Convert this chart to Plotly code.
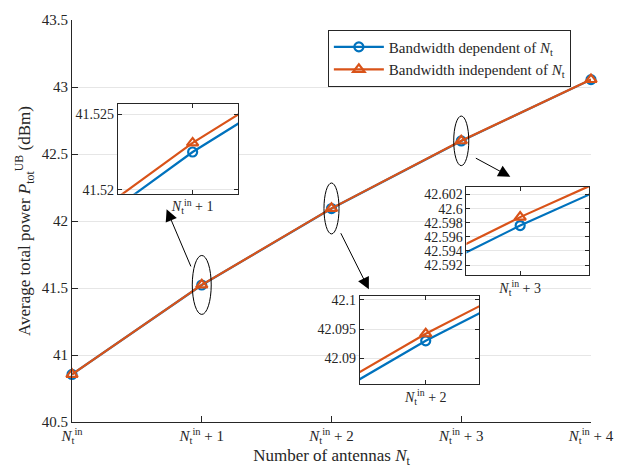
import plotly.graph_objects as go

# ---- data ----
x_vals = [0, 1, 2, 3, 4]
x_labels = ["<i>N</i><sub>t</sub><sup>in</sup>",
            "<i>N</i><sub>t</sub><sup>in</sup> + 1",
            "<i>N</i><sub>t</sub><sup>in</sup> + 2",
            "<i>N</i><sub>t</sub><sup>in</sup> + 3",
            "<i>N</i><sub>t</sub><sup>in</sup> + 4"]
bw_dependent = [40.855, 41.5225, 42.093, 42.5976, 43.055]
bw_independent = [40.856, 41.5231, 42.0942, 42.5988, 43.056]
series_names = ["Bandwidth dependent of <i>N</i><sub>t</sub>",
                "Bandwidth independent of <i>N</i><sub>t</sub>"]

# inset definitions: (center index, x range, y range, y ticks, y tick labels)
insets = [
    (1, [0.9946, 1.0033], [41.51974, 41.52565], [41.52, 41.525], ["41.52", "41.525"]),
    (2, [1.9886, 2.0093], [42.0857, 42.1007], [42.09, 42.095, 42.1], ["42.09", "42.095", "42.1"]),
    (3, [2.9925, 3.0096], [42.5906, 42.6031],
     [42.592, 42.594, 42.596, 42.598, 42.6, 42.602],
     ["42.592", "42.594", "42.596", "42.598", "42.6", "42.602"]),
]
# inset placement (paper coords)
inset_domains = [
    ([0.0883, 0.3205], [0.568, 0.790]),
    ([0.5547, 0.785], [0.0951, 0.3146]),
    ([0.760, 0.996], [0.366, 0.585]),
]

BLUE = "#0072BD"
ORANGE = "#D95319"
AX = "#262626"
FONT = "Liberation Serif"

fig = go.Figure()

def add_series(xa, ya, show, clip):
    fig.add_trace(go.Scatter(
        x=x_vals, y=bw_dependent, name=series_names[0], mode="lines+markers",
        line=dict(color=BLUE, width=2.2, simplify=False),
        marker=dict(symbol="circle-open", size=9, line=dict(width=2.2, color=BLUE)),
        xaxis=xa, yaxis=ya, showlegend=show, cliponaxis=clip))
    fig.add_trace(go.Scatter(
        x=x_vals, y=bw_independent, name=series_names[1], mode="lines+markers",
        line=dict(color=ORANGE, width=2.2, simplify=False),
        marker=dict(symbol="triangle-up-open", size=10, line=dict(width=2.2, color=ORANGE)),
        xaxis=xa, yaxis=ya, showlegend=show, cliponaxis=clip))

add_series("x", "y", True, False)

layout = dict(
    width=626, height=472,
    margin=dict(l=72, r=33, t=15, b=47),
    plot_bgcolor="white", paper_bgcolor="white",
    font=dict(family=FONT, size=15, color=AX),
    xaxis=dict(range=[0, 4], tickvals=x_vals, ticktext=x_labels,
               showgrid=False, zeroline=False, showline=True, linecolor=AX, linewidth=1,
               ticks="inside", ticklen=6, tickcolor=AX, tickfont=dict(size=15),
               title=dict(text="Number of antennas <i>N</i><sub>t</sub>", font=dict(size=17), standoff=2)),
    yaxis=dict(range=[40.5, 43.5], tickvals=[40.5, 41, 41.5, 42, 42.5, 43, 43.5],
               ticktext=["40.5", "41", "41.5", "42", "42.5", "43", "43.5"],
               showgrid=True, gridcolor="#e6e6e6", zeroline=False, showline=True,
               linecolor=AX, linewidth=1, ticks="inside", ticklen=6, tickcolor=AX,
               tickfont=dict(size=15),
               title=dict(text="Average total power <i>P</i><sub>tot</sub><sup>UB</sup> (dBm)",
                          font=dict(size=17), standoff=6)),
    legend=dict(x=0.493, y=0.976, xanchor="left", yanchor="top",
                bgcolor="white", bordercolor=AX, borderwidth=1,
                font=dict(size=15), itemwidth=50, tracegroupgap=0),
)

for i, ((xc, xr, yr, ytv, ytt), (dx, dy)) in enumerate(zip(insets, inset_domains)):
    n = i + 2
    layout[f"xaxis{n}"] = dict(domain=dx, range=xr, anchor=f"y{n}",
                               tickvals=[xc], ticktext=[x_labels[xc]],
                               showgrid=False, zeroline=False, showline=True, mirror="ticks",
                               linecolor=AX, linewidth=1, ticks="inside", ticklen=4,
                               tickcolor=AX, tickfont=dict(size=14))
    layout[f"yaxis{n}"] = dict(domain=dy, range=yr, anchor=f"x{n}",
                               tickvals=ytv, ticktext=ytt,
                               showgrid=True, gridcolor="#e6e6e6", zeroline=False,
                               showline=True, mirror="ticks", linecolor=AX, linewidth=1,
                               ticks="inside", ticklen=4, tickcolor=AX, tickfont=dict(size=14))
    add_series(f"x{n}", f"y{n}", False, True)

fig.update_layout(**layout)

# ellipses around zoomed points
ellipse_specs = [(1, 0.073, 0.22), (2, 0.058, 0.19), (3, 0.058, 0.185)]
for xc, hw, hh in ellipse_specs:
    yc = (bw_dependent[xc] + bw_independent[xc]) / 2
    fig.add_shape(type="circle", xref="x", yref="y",
                  x0=xc - hw, x1=xc + hw, y0=yc - hh, y1=yc + hh,
                  line=dict(color="black", width=1))

# arrows (tail -> tip, data coords)
arrows = [((0.921, 41.65), (0.729, 42.088)),
          ((2.066, 41.92), (2.288, 41.49)),
          ((3.101, 42.475), (3.378, 42.33))]
for (tx, ty), (hx, hy) in arrows:
    fig.add_annotation(x=hx, y=hy, ax=tx, ay=ty, xref="x", yref="y",
                       axref="x", ayref="y", text="", showarrow=True,
                       arrowhead=2, arrowsize=2.4, arrowwidth=1, arrowcolor="black")

fig.write_html("out.html")
